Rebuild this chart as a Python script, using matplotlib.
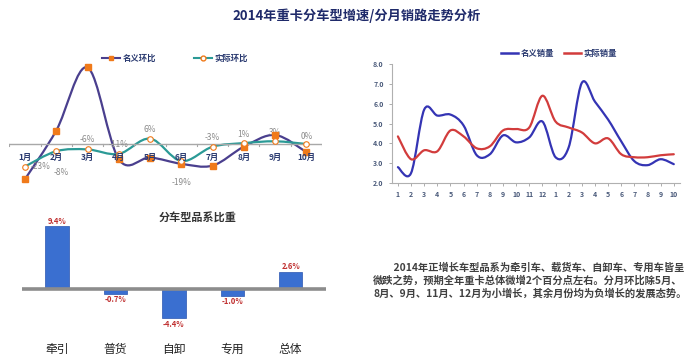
import matplotlib.pyplot as plt
import numpy as np
from matplotlib.path import Path
from matplotlib.patches import PathPatch

plt.rcParams['font.family'] = ['Noto Sans CJK SC', 'DejaVu Sans']

# 环比 (left top)
months = ['1月', '2月', '3月', '4月', '5月', '6月', '7月', '8月', '9月', '10月']
nominal_mom = [-39, 15, 85, -17, -15, -22, -24, -3, 10, -9]
real_mom = [-25, -8, -6, -11, 6, -19, -3, 1, 3, 0]
real_labels = ['-23%', '-8%', '-6%', '-11%', '6%', '-19%', '-3%', '1%', '3%', '0%']

# 分车型 (left bottom)
types = ['牵引', '普货', '自卸', '专用', '总体']
shares = [9.4, -0.7, -4.4, -1.0, 2.6]

# 销量 (right)
sale_ticks = [str(i) for i in range(1, 13)] + [str(i) for i in range(1, 11)]
nominal_sales = [2.8, 2.5, 5.7, 5.4, 5.45, 4.9, 3.4, 3.45, 4.4, 4.05, 4.3, 5.1,
                 3.3, 3.8, 7.05, 6.1, 5.2, 4.1, 3.1, 2.9, 3.2, 2.95]
real_sales = [4.35, 3.2, 3.65, 3.6, 4.65, 4.35, 3.75, 3.85, 4.65, 4.72, 4.8, 6.4,
              5.1, 4.8, 4.55, 4.0, 4.25, 3.45, 3.3, 3.3, 3.4, 3.45]

text_lines = ['　　2014年正增长车型品系为牵引车、载货车、自卸车、专用车皆呈',
              '微跌之势，预期全年重卡总体微增2个百分点左右。分月环比除5月、',
              '8月、9月、11月、12月为小增长，其余月份均为负增长的发展态势。']


def smooth(ax, x, y, color, lw):
    # catmull-rom through the points, drawn as bezier path
    x = np.asarray(x, float)
    y = np.asarray(y, float)
    verts = [(x[0], y[0])]
    codes = [Path.MOVETO]
    n = len(x)
    for i in range(n - 1):
        p0 = (x[max(i - 1, 0)], y[max(i - 1, 0)])
        p1 = (x[i], y[i])
        p2 = (x[i + 1], y[i + 1])
        p3 = (x[min(i + 2, n - 1)], y[min(i + 2, n - 1)])
        c1 = (p1[0] + (p2[0] - p0[0]) / 6, p1[1] + (p2[1] - p0[1]) / 6)
        c2 = (p2[0] - (p3[0] - p1[0]) / 6, p2[1] - (p3[1] - p1[1]) / 6)
        verts += [c1, c2, p2]
        codes += [Path.CURVE4] * 3
    ax.add_patch(PathPatch(Path(verts, codes), fill=False, edgecolor=color,
                           lw=lw, capstyle='round', joinstyle='round'))


fig = plt.figure(figsize=(7, 3.58), dpi=100)

fig.text(0.51, 0.955, '2014年重卡分车型增速/分月销路走势分析', ha='center', va='center',
         fontsize=9.5, fontweight='bold', color='#1f2a6a')

# ---- top left
ax1 = fig.add_axes([0.0134, 0.4846, 0.4466, 0.352])
xs = np.arange(len(months))
purple = '#4a3f8e'
teal = '#2b9a96'
orange = '#f07a1a'
smooth(ax1, xs, nominal_mom, purple, 1.6)
smooth(ax1, xs, real_mom, teal, 1.6)
ax1.plot(xs, nominal_mom, 's', color=orange, ms=4, zorder=4)
ax1.plot(xs, real_mom, 'o', mfc='white', mec=orange, ms=4, mew=0.8, zorder=4)
ax1.axhline(0, color='#a8a8a8', lw=1, zorder=1)
for i in range(len(months) + 1):
    ax1.plot([i - 0.5, i - 0.5], [0, -2.5], color='#a8a8a8', lw=0.8)
for i, m in enumerate(months):
    ax1.text(i, -14.5, m, ha='center', va='center', fontsize=6, fontweight='bold',
             color='#2a3a70', zorder=5)
offsets = [0, -24, 11, 10, 10, -24, 10, 10, 10, 8]
shifts = [0.5, 0.15, 0, 0, 0, 0, 0, 0, 0, 0]
for i, (v, lab) in enumerate(zip(real_mom, real_labels)):
    ax1.text(i + shifts[i], v + offsets[i], lab, ha='center', va='center', fontsize=6,
             color='#8a8a8a')
ax1.set_xlim(-0.5, len(months) - 0.5)
ax1.set_ylim(-45, 95)
ax1.axis('off')
h1, = ax1.plot([], [], '-s', color=purple, mfc=orange, mec=orange, ms=3.5, lw=1.5)
h2, = ax1.plot([], [], '-o', color=teal, mfc='white', mec=orange, ms=3.5, lw=1.5)
leg = ax1.legend([h1, h2], ['名义环比', '实际环比'], ncol=2, loc='center',
                 bbox_to_anchor=(0.53, 1.0), frameon=False, fontsize=6,
                 handlelength=2.2, columnspacing=4.5, handletextpad=0.3)
for t in leg.get_texts():
    t.set_fontweight('bold')
    t.set_color('#2a3a70')

# ---- bottom left bars
ax2 = fig.add_axes([0.0314, 0.081, 0.434, 0.307])
bx = np.arange(len(types))
ax2.bar(bx, shares, width=0.4, color='#3a6fd0', edgecolor='#2a55b0', lw=0.5, zorder=2)
ax2.axhline(0, color='#8c8c8c', lw=2.6, zorder=3)
for i, v in enumerate(shares):
    off = 0.8 if v > 0 else -0.9
    ax2.text(i, v + off, f'{v:.1f}%', ha='center', va='center', fontsize=5.5,
             fontweight='bold', color='#c03030')
ax2.set_xlim(-0.6, len(types) - 0.4)
ax2.set_ylim(-6, 10.5)
ax2.set_xticks(bx)
ax2.set_xticklabels(types, fontsize=8.5, color='#222222')
ax2.tick_params(axis='x', length=0, pad=10)
ax2.set_yticks([])
for s in ax2.spines.values():
    s.set_visible(False)
fig.text(0.282, 0.39, '分车型品系比重', ha='center', va='center', fontsize=8,
         fontweight='bold', color='#333333')

# ---- right line chart
ax3 = fig.add_axes([0.56, 0.4888, 0.411, 0.3324])
sx = np.arange(len(sale_ticks))
blue = '#3434b4'
red = '#d23c3c'
smooth(ax3, sx, nominal_sales, blue, 1.6)
smooth(ax3, sx, real_sales, red, 1.6)
ax3.set_xlim(-0.45, len(sale_ticks) - 0.55)
ax3.set_ylim(2, 8)
ax3.set_yticks(np.arange(2, 8.5, 1.0))
ax3.set_yticklabels([f'{v:.1f}' for v in np.arange(2, 8.5, 1.0)])
ax3.set_xticks(sx)
ax3.set_xticklabels(sale_ticks)
for lab in ax3.get_xticklabels() + ax3.get_yticklabels():
    lab.set_fontsize(5)
    lab.set_fontweight('bold')
    lab.set_color('#4a5a7a')
ax3.tick_params(length=2, width=0.6, color='#a0a0a0', pad=4)
for s in ['top', 'right']:
    ax3.spines[s].set_visible(False)
for s in ['left', 'bottom']:
    ax3.spines[s].set_color('#b0b0b0')
    ax3.spines[s].set_linewidth(0.8)
g1, = ax3.plot([], [], color=blue, lw=1.8)
g2, = ax3.plot([], [], color=red, lw=1.8)
leg3 = ax3.legend([g1, g2], ['名义销量', '实际销量'], ncol=2, loc='center',
                  bbox_to_anchor=(0.58, 1.09), frameon=False, fontsize=6,
                  handlelength=2.0, columnspacing=1.2, handletextpad=0.3)
for t in leg3.get_texts():
    t.set_fontweight('bold')
    t.set_color('#2a3a70')

# ---- text
for i, line in enumerate(text_lines):
    fig.text(0.533, 0.252 - i * 0.0355, line, ha='left', va='center', fontsize=7.4,
             fontweight='bold', color='#404040')

fig.savefig('out.png', dpi=100)
